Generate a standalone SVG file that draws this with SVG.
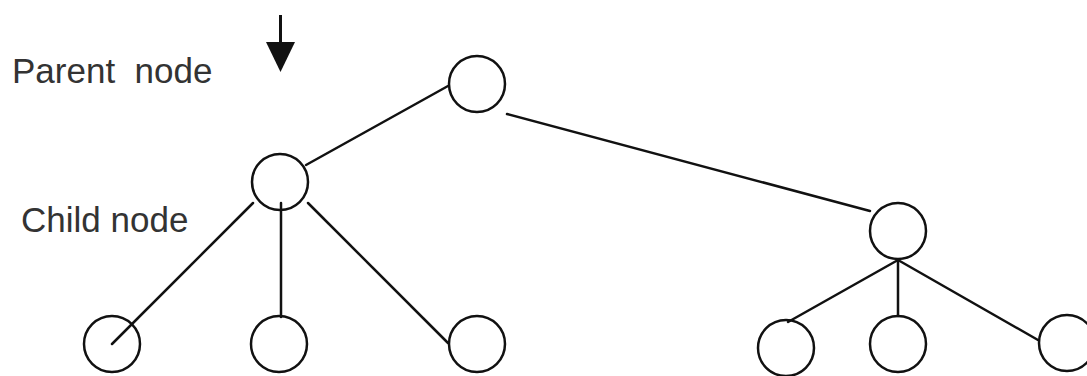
<svg xmlns="http://www.w3.org/2000/svg" width="1087" height="376" viewBox="0 0 1087 376">
  <style>
    .node { fill: none; stroke: #111; stroke-width: 2.5; }
    .edge { stroke: #111; stroke-width: 2.5; fill: none; stroke-linecap: round; }
    .label { font-family: "Liberation Sans", Arial, sans-serif; font-size: 35px; fill: #333; }
  </style>
  <rect width="1087" height="376" fill="#fff"/>

  <g id="labels">
    <text class="label" x="12" y="83" xml:space="preserve">Parent  node</text>
    <text class="label" x="21" y="232">Child node</text>
  </g>

  <g id="pointer">
    <line x1="280.5" y1="15" x2="280.5" y2="44" stroke="#111" stroke-width="3"/>
    <path d="M266 42 L295 42 L280.5 72 Z" fill="#111"/>
  </g>

  <g id="connectors">
    <line class="edge" x1="448" y1="86" x2="306" y2="165"/>
    <line class="edge" x1="507" y1="114" x2="870" y2="211"/>
    <line class="edge" x1="253" y1="203" x2="112" y2="344"/>
    <line class="edge" x1="281" y1="203" x2="281" y2="317"/>
    <line class="edge" x1="308" y1="203" x2="448" y2="343"/>
    <line class="edge" x1="898" y1="260" x2="788" y2="322"/>
    <line class="edge" x1="898" y1="260" x2="898" y2="316"/>
    <line class="edge" x1="898" y1="260" x2="1038" y2="340"/>
  </g>

  <g id="root"><circle class="node" cx="477" cy="84" r="28"/></g>
  <g id="child-left"><circle class="node" cx="280" cy="182" r="28"/></g>
  <g id="child-right"><circle class="node" cx="898" cy="231" r="28"/></g>
  <g id="leaf-1"><circle class="node" cx="112" cy="344" r="28"/></g>
  <g id="leaf-2"><circle class="node" cx="279" cy="344" r="28"/></g>
  <g id="leaf-3"><circle class="node" cx="477" cy="344" r="28"/></g>
  <g id="leaf-4"><circle class="node" cx="786" cy="348" r="28"/></g>
  <g id="leaf-5"><circle class="node" cx="898" cy="344" r="28"/></g>
  <g id="leaf-6"><circle class="node" cx="1067" cy="343" r="28"/></g>
</svg>
